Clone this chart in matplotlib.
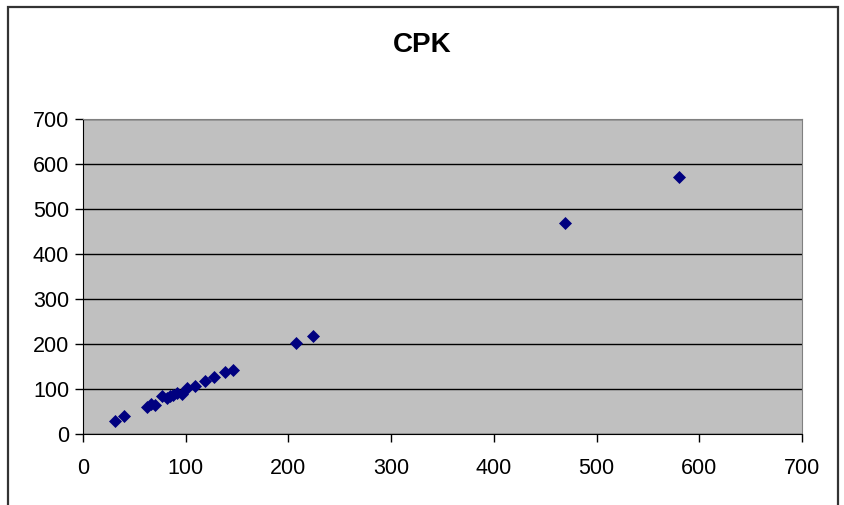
import numpy as np
import matplotlib.pyplot as plt
from matplotlib.patches import Rectangle

plt.rcParams['font.family'] = ['Liberation Sans', 'DejaVu Sans']

# CPK data
x_vals = [31, 39.5, 62, 66, 70, 77, 82, 85, 88, 92, 96, 101, 109,
          119, 128, 138.5, 146.5, 207.5, 224, 469, 580]
y_vals = [29, 40, 61, 66, 64, 85, 80.5, 84, 86, 91.5, 88.5, 102.5, 106,
          118, 127, 138, 143, 203, 217, 469, 571]
x_ticks = [0, 100, 200, 300, 400, 500, 600, 700]
y_ticks = [0, 100, 200, 300, 400, 500, 600, 700]

fig = plt.figure(figsize=(8.45, 5.05), dpi=100)
ax = fig.add_axes([83/845, 71/505, 719/845, 315/505])

# outer chart border
fig.patches.append(Rectangle((8/845, -0.1), 830/845, 1.1 - 7/505,
                             transform=fig.transFigure, fill=False,
                             edgecolor='#333333', linewidth=1.6))

ax.set_facecolor('#c0c0c0')
ax.scatter(x_vals, y_vals, marker='D', s=44, color='#000080', zorder=3,
           linewidths=0)

ax.set_xlim(0, 700)
ax.set_ylim(0, 700)
ax.set_xticks(x_ticks)
ax.set_yticks(y_ticks)
ax.yaxis.grid(True, color='black', linewidth=1)
ax.set_axisbelow(True)
ax.tick_params(direction='out', length=6, width=1, labelsize=15.5, colors='black')
ax.tick_params(axis='x', pad=11)
ax.tick_params(axis='y', pad=4)
for s in ['top', 'right']:
    ax.spines[s].set_color('#808080')
for s in ['left', 'bottom']:
    ax.spines[s].set_color('black')

fig.text(422/845, 1 - 45/505, 'CPK', ha='center', va='center',
         fontsize=20, fontweight='bold')

fig.savefig('out.png', dpi=100)
